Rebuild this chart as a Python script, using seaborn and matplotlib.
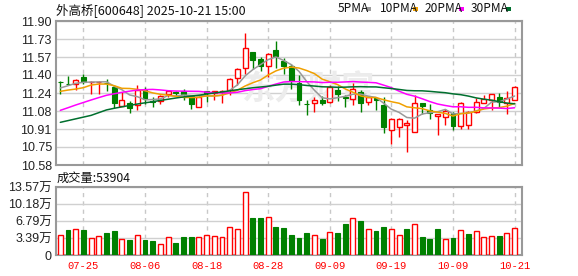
import numpy as np
import pandas as pd
import matplotlib
matplotlib.use("Agg")
import matplotlib.pyplot as plt
from matplotlib.patches import Rectangle
import seaborn as sns

# ---------------- data ----------------
title = "外高桥[600648] 2025-10-21 15:00"
open_ = [11.345, 11.325, 11.326, 11.39, 11.34, 11.34, 11.335, 11.296, 11.12, 11.15,
         11.134, 11.27, 11.168, 11.17, 11.23, 11.25, 11.261, 11.212, 11.115, 11.255,
         11.243, 11.25, 11.267, 11.374, 11.466, 11.616, 11.549, 11.487, 11.634, 11.536,
         11.49, 11.329, 11.14, 11.145, 11.176, 11.16, 11.267, 11.203, 11.188, 11.252,
         11.154, 11.197, 11.127, 10.90, 10.931, 10.943, 10.879, 11.145, 11.084, 11.032,
         11.017, 11.06, 10.937, 10.943, 11.069, 11.145, 11.176, 11.20, 11.151, 11.176]
high = [11.35, 11.40, 11.366, 11.412, 11.35, 11.35, 11.37, 11.31, 11.245, 11.17,
        11.31, 11.297, 11.20, 11.22, 11.265, 11.255, 11.273, 11.225, 11.212, 11.261,
        11.261, 11.265, 11.374, 11.466, 11.793, 11.616, 11.573, 11.61, 11.717, 11.558,
        11.51, 11.405, 11.176, 11.20, 11.212, 11.31, 11.304, 11.222, 11.335, 11.267,
        11.212, 11.206, 11.206, 11.007, 11.007, 10.99, 11.222, 11.145, 11.139, 11.047,
        11.095, 11.069, 11.16, 11.078, 11.19, 11.222, 11.228, 11.237, 11.261, 11.304]
low = [11.235, 11.31, 11.265, 11.327, 11.235, 11.235, 11.26, 11.106, 11.12, 11.057,
       11.088, 11.14, 11.11, 11.136, 11.20, 11.215, 11.176, 11.09, 11.115, 11.157,
       11.176, 11.145, 11.225, 11.313, 11.414, 11.457, 11.445, 11.384, 11.466, 11.414,
       11.28, 11.13, 11.038, 11.069, 11.13, 11.145, 11.167, 11.108, 11.13, 11.069,
       11.13, 11.084, 10.87, 10.772, 10.833, 10.695, 10.879, 11.047, 11.00, 10.858,
       10.949, 10.904, 10.913, 10.913, 11.06, 11.145, 11.084, 11.115, 11.047, 11.176]
close = [11.34, 11.32, 11.357, 11.34, 11.345, 11.345, 11.328, 11.152, 11.18, 11.106,
         11.266, 11.186, 11.162, 11.21, 11.26, 11.243, 11.231, 11.139, 11.206, 11.237,
         11.255, 11.258, 11.365, 11.457, 11.649, 11.542, 11.487, 11.597, 11.579, 11.487,
         11.35, 11.176, 11.135, 11.176, 11.145, 11.298, 11.231, 11.198, 11.273, 11.151,
         11.20, 11.176, 10.931, 10.998, 11.005, 10.968, 11.145, 11.121, 11.06, 11.044,
         11.078, 10.937, 11.145, 11.069, 11.154, 11.185, 11.228, 11.16, 11.197, 11.292]
# volume in 万 (10k shares)
volume = [3.91, 5.03, 5.16, 5.03, 3.38, 3.71, 4.37, 4.77, 3.18, 3.05,
          3.91, 3.05, 2.78, 2.12, 3.51, 2.38, 3.57, 3.57, 3.57, 3.91,
          3.71, 3.57, 5.49, 5.16, 12.64, 7.35, 7.35, 7.68, 5.56, 5.36,
          3.97, 3.38, 4.37, 3.91, 3.18, 4.50, 4.37, 6.16, 7.48, 6.75,
          5.16, 4.77, 5.56, 5.16, 3.91, 5.16, 6.09, 3.57, 3.18, 5.16,
          3.11, 3.38, 4.97, 4.17, 4.77, 3.51, 3.77, 3.77, 4.30, 5.39]
vol_dir = list("RGRGRRGGRGRGGRRGGGRRRRRRRGGRGG" + "GGGRGRGGRGRGGRRGRGGGRGRGRRRGRR")
last_volume = "53904"
# moving-average values before a full window is available
ma5_head = [11.286, 11.307, 11.329, 11.338]
ma10_head = [11.255, 11.267, 11.276, 11.289, 11.313, 11.322, 11.322, 11.307, 11.283]
ma20_head = [11.081, 11.105, 11.13, 11.153, 11.176, 11.198, 11.219, 11.233, 11.246, 11.257,
             11.267, 11.271, 11.273, 11.268, 11.261, 11.258, 11.257, 11.256, 11.255]
ma30_head = [10.971, 10.987, 11.003, 11.019, 11.035, 11.06, 11.085, 11.10, 11.113, 11.126,
             11.139, 11.15, 11.16, 11.172, 11.183, 11.194, 11.204, 11.212, 11.22, 11.23,
             11.24, 11.25, 11.26, 11.27, 11.279, 11.288, 11.295, 11.302, 11.312]
price_tick_labels = ["10.58", "10.75", "10.91", "11.08", "11.24", "11.40", "11.57", "11.73", "11.90"]
vol_tick_labels = ["0", "3.39万", "6.79万", "10.18万", "13.57万"]
date_tick_labels = ["07-25", "08-06", "08-18", "08-28", "09-09", "09-19", "10-09", "10-21"]
ma_names = ["5PMA", "10PMA", "20PMA", "30PMA"]
holidays = ["2025-10-01", "2025-10-02", "2025-10-03", "2025-10-06", "2025-10-07", "2025-10-08"]

# ---------------- prep ----------------
days = pd.bdate_range("2025-07-22", "2025-10-21")
days = days[~days.isin(pd.to_datetime(holidays))]
labels_all = [d.strftime("%m-%d") for d in days]
o = np.array(open_); h = np.array(high); l = np.array(low); c = np.array(close)
v = np.array(volume)
x = np.arange(len(c))


def moving_avg(n, head):
    s = pd.Series(c).rolling(n).mean().to_numpy()
    s[:n - 1] = head
    return s


mas = [moving_avg(5, ma5_head), moving_avg(10, ma10_head),
       moving_avg(20, ma20_head), moving_avg(30, ma30_head)]
ma_colors = ["#999999", "#f0a000", "#ff00ff", "#006f2e"]

RED = "#ff0000"
GREEN = "#008000"
GRID = "#d0d0d0"
SPINE = "#999999"

sns.set_theme(style="white")
plt.rcParams["font.family"] = ["Liberation Sans", "Noto Sans CJK SC", "DejaVu Sans"]

W, H = 578, 276
fig = plt.figure(figsize=(W / 100, H / 100), dpi=100)
fig.patch.set_facecolor("white")
ax1 = fig.add_axes([56 / W, 1 - 165 / H, 466 / W, 144 / H])
ax2 = fig.add_axes([56 / W, 1 - 255 / H, 466 / W, 68 / H])

xlim = (-0.56, len(c) - 1 + 0.96)
tick_pos = [labels_all.index(t) for t in date_tick_labels]

# ---------------- price panel ----------------
ax1.text(0.54, 0.52, "东方财富", transform=ax1.transAxes, fontsize=24,
         family=["Noto Sans CJK SC"], fontweight="bold", color="#ececec",
         ha="center", va="center", zorder=1)

up = c >= o
bw = 0.64
body_lo = np.minimum(o, c)
body_hi = np.maximum(o, c)
body_h = np.maximum(body_hi - body_lo, 0.003)

# wicks
ax1.vlines(x[~up], l[~up], h[~up], color=GREEN, linewidth=1, zorder=3)
ax1.vlines(x[up], body_hi[up], h[up], color=RED, linewidth=1, zorder=3)
ax1.vlines(x[up], l[up], body_lo[up], color=RED, linewidth=1, zorder=3)
# bodies
ax1.bar(x[up], body_h[up], bottom=body_lo[up], width=bw, facecolor="white",
        edgecolor=RED, linewidth=1, zorder=4)
ax1.bar(x[~up], body_h[~up], bottom=body_lo[~up], width=bw, facecolor=GREEN,
        edgecolor=GREEN, linewidth=0.8, zorder=4)

for m, col in zip(mas, ma_colors):
    sns.lineplot(x=x, y=m, color=col, linewidth=1.1, ax=ax1, zorder=5,
                 drawstyle="steps-mid" if False else "default")

ax1.set_xlim(*xlim)
ax1.set_ylim(10.58, 11.90)
ax1.set_yticks(np.linspace(10.58, 11.90, 9))
ax1.set_yticklabels(price_tick_labels)
ax1.set_xticks(tick_pos)
ax1.set_xticklabels([])
ax1.grid(axis="y", color=GRID, linewidth=1, linestyle="-")
ax1.grid(axis="x", color="#c8c8c8", linewidth=1, linestyle=(0, (3, 3)))
ax1.set_axisbelow(True)
ax1.tick_params(axis="both", length=0, pad=3, labelsize=9, labelcolor="#222222")
for s in ax1.spines.values():
    s.set_color(SPINE)
    s.set_linewidth(1.5)
ax1.set_xlabel(""); ax1.set_ylabel("")

# ---------------- volume panel ----------------
vup = np.array([d == "R" for d in vol_dir])
ax2.bar(x[vup], v[vup], width=bw, facecolor="white", edgecolor=RED, linewidth=1, zorder=3)
ax2.bar(x[~vup], v[~vup], width=bw, facecolor=GREEN, edgecolor=GREEN, linewidth=0.8, zorder=3)
ax2.set_xlim(*xlim)
ax2.set_ylim(0, 13.57)
ax2.set_yticks(np.linspace(0, 13.57, 5))
ax2.set_yticklabels(vol_tick_labels)
ax2.set_xticks(tick_pos)
ax2.set_xticklabels(date_tick_labels, family=["Liberation Mono"], fontsize=7.6, color=RED)
ax2.grid(axis="y", color=GRID, linewidth=1, linestyle="-")
ax2.grid(axis="x", color="#c8c8c8", linewidth=1, linestyle=(0, (3, 3)))
ax2.set_axisbelow(True)
ax2.tick_params(axis="y", length=0, pad=3, labelsize=9, labelcolor="#222222")
ax2.tick_params(axis="x", length=0, pad=4)
for s in ax2.spines.values():
    s.set_color(SPINE)
    s.set_linewidth(1.5)

# ---------------- texts ----------------
cjk = ["Noto Sans CJK SC", "DejaVu Sans"]
fig.text(56 / W, 1 - 10 / H, title, family=cjk, fontsize=9, color="#111111",
         ha="left", va="center")
fig.text(57 / W, 1 - 178 / H, "成交量:" + last_volume, family=cjk, fontsize=8.8,
         color="#111111", ha="left", va="center")

leg_text_x = [338, 380, 425, 471]
leg_box_x = [366, 413, 459, 506]
for name, col, tx, bx in zip(ma_names, ma_colors, leg_text_x, leg_box_x):
    fig.text(tx / W, 1 - 9 / H, name, family=cjk, fontsize=8.6, color="#111111",
             ha="left", va="center")
    fig.patches.append(Rectangle((bx / W, 1 - 11 / H), 5 / W, 4 / H,
                                 transform=fig.transFigure, facecolor=col,
                                 edgecolor="none"))

fig.savefig("out.png", dpi=100, facecolor="white")
